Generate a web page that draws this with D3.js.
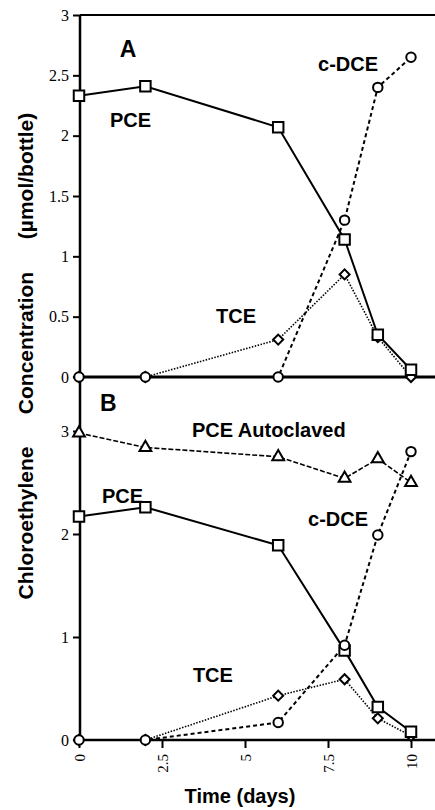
<!DOCTYPE html>
<html>
<head>
<meta charset="utf-8">
<script src="https://cdn.jsdelivr.net/npm/d3@7"></script>
<style>
  body { margin: 0; background: #fff; }
  svg { display: block; }
  .lbl { font-family: "Liberation Sans", Arial, sans-serif; font-weight: bold; fill: #000; }
</style>
</head>
<body>
<div id="viz-container"></div>
<script>
var days = [0, 2, 6, 8, 9, 10];

// panel A
var pceA = [2.33, 2.41, 2.07, 1.14, 0.35, 0.06];
var tceA = [0, 0, 0.31, 0.85, 0.33, 0];
var dceA = [0, 0, 0, 1.30, 2.40, 2.65];

// panel B
var autoB = [2.98, 2.84, 2.75, 2.54, 2.73, 2.50];
var pceB = [2.17, 2.26, 1.89, 0.87, 0.32, 0.08];
var tceB = [0, 0, 0.43, 0.59, 0.21, 0.04];
var dceB = [0, 0, 0.17, 0.92, 1.99, 2.80];

var ticksA = [0, 0.5, 1, 1.5, 2, 2.5, 3];
var ticksB = [0, 1, 2, 3];
var ticksX = [0, 2.5, 5, 7.5, 10];

var W = 435, H = 810;
var SERIF = '"Liberation Serif", "DejaVu Serif", "Times New Roman", serif';

var svg = d3.select('#viz-container').append('svg')
	.attr('width', W)
	.attr('height', H);

var x = d3.scaleLinear().domain([0, 10]).range([79, 411]);
var yA = d3.scaleLinear().domain([0, 3]).range([377, 15]);
var yB = d3.scaleLinear().domain([0, 3]).range([740, 431]);

// y axes
function yAxis(scale, ticks) {
	var g = svg.append('g')
		.attr('transform', 'translate(80,0)')
		.call(d3.axisLeft(scale).tickValues(ticks).tickSize(7).tickPadding(4)
			.tickFormat(d3.format('')));
	g.attr('font-family', null);
	g.select('.domain').remove();
	g.selectAll('.tick line').attr('stroke', '#000').attr('stroke-width', 2);
	g.selectAll('.tick text')
		.style('font-family', SERIF)
		.style('font-size', '16px')
		.attr('fill', '#000');
	return g;
}
yAxis(yA, ticksA);
yAxis(yB, ticksB);

// x axis (panel B) with rotated labels
var gx = svg.append('g')
	.attr('transform', 'translate(0,' + yB(0) + ')')
	.call(d3.axisBottom(x).tickValues(ticksX).tickSize(8).tickFormat(d3.format('')));
gx.attr('font-family', null);
gx.select('.domain').remove();
gx.selectAll('.tick line').attr('stroke', '#000').attr('stroke-width', 2);
gx.selectAll('.tick text')
	.style('font-family', SERIF)
	.style('font-size', '15px')
	.attr('fill', '#000')
	.attr('text-anchor', 'end')
	.attr('transform', 'translate(0,14) rotate(-90)')
	.attr('x', 0)
	.attr('y', 0)
	.attr('dy', '0.35em');

// frame lines
svg.append('line').attr('x1', 80).attr('x2', 80).attr('y1', yA(3)).attr('y2', yB(0))
	.attr('stroke', '#000').attr('stroke-width', 2.5);
svg.append('line').attr('x1', 80).attr('x2', W).attr('y1', yA(3)).attr('y2', yA(3))
	.attr('stroke', '#000').attr('stroke-width', 2);
svg.append('line').attr('x1', 80).attr('x2', W).attr('y1', yA(0)).attr('y2', yA(0))
	.attr('stroke', '#000').attr('stroke-width', 3);
svg.append('line').attr('x1', 80).attr('x2', W).attr('y1', yB(0)).attr('y2', yB(0))
	.attr('stroke', '#000').attr('stroke-width', 2.5);

function series(vals, y, dash, sw) {
	var pts = days.map(function(d, i) { return [x(d), y(vals[i])]; });
	svg.append('path')
		.attr('d', d3.line()(pts))
		.attr('fill', 'none')
		.attr('stroke', '#000')
		.attr('stroke-width', sw)
		.attr('stroke-dasharray', dash);
	return pts;
}

function markers(pts, shape) {
	var sym = d3.symbol().type(shape.type).size(shape.size);
	svg.append('g').selectAll('path')
		.data(pts)
		.enter().append('path')
		.attr('d', sym)
		.attr('transform', function(p) { return 'translate(' + p[0] + ',' + p[1] + ')' + (shape.rot || ''); })
		.attr('fill', '#fff')
		.attr('stroke', '#000')
		.attr('stroke-width', 2);
}

var SQ = {type: d3.symbolSquare, size: 110};
var CI = {type: d3.symbolCircle, size: 70};
var DI = {type: d3.symbolSquare, size: 50, rot: ' rotate(45)'};
var TR = {type: d3.symbolTriangle, size: 60};

// panel A
var pA1 = series(tceA, yA, '1.5,1.5', 1.6);
var pA2 = series(dceA, yA, '4,3', 2);
var pA3 = series(pceA, yA, null, 2);
markers(pA1, DI);
markers(pA3, SQ);
markers(pA2, CI);

// panel B
var pB0 = series(autoB, yB, '5,2', 1.6);
var pB1 = series(tceB, yB, '1.5,1.5', 1.6);
var pB2 = series(dceB, yB, '4,3', 2);
var pB3 = series(pceB, yB, null, 2);
markers(pB0, TR);
markers(pB1, DI);
markers(pB3, SQ);
markers(pB2, CI);

// annotations
function label(txt, px, py, size) {
	svg.append('text').attr('class', 'lbl')
		.attr('x', px).attr('y', py)
		.style('font-size', size + 'px')
		.text(txt);
}
label('A', x(1.23), yA(2.65), 23);
label('PCE', x(0.93), yA(2.07), 20);
label('c-DCE', x(7.2), yA(2.54), 20);
label('TCE', x(4.13), yA(0.45), 20);
label('B', x(0.63), yB(3.19), 23);
label('PCE Autoclaved', x(3.4), yB(2.94), 20);
label('PCE', x(0.69), yB(2.30), 20);
label('c-DCE', x(6.9), yB(2.08), 20);
label('TCE', x(3.43), yB(0.56), 20);

svg.append('text').attr('class', 'lbl')
	.attr('x', 240).attr('y', 803)
	.attr('text-anchor', 'middle')
	.style('font-size', '20px')
	.text('Time (days)');

// y title, three words spread along the axis
var yTitle = [['Chloroethylene', 523], ['Concentration', 343], ['(\u00b5mol/bottle)', 176]];
svg.selectAll('.ytitle')
	.data(yTitle)
	.enter().append('text')
	.attr('class', 'lbl ytitle')
	.attr('text-anchor', 'middle')
	.attr('transform', function(d) { return 'translate(33,' + d[1] + ') rotate(-90)'; })
	.style('font-size', '21px')
	.text(function(d) { return d[0]; });
</script>
</body>
</html>
